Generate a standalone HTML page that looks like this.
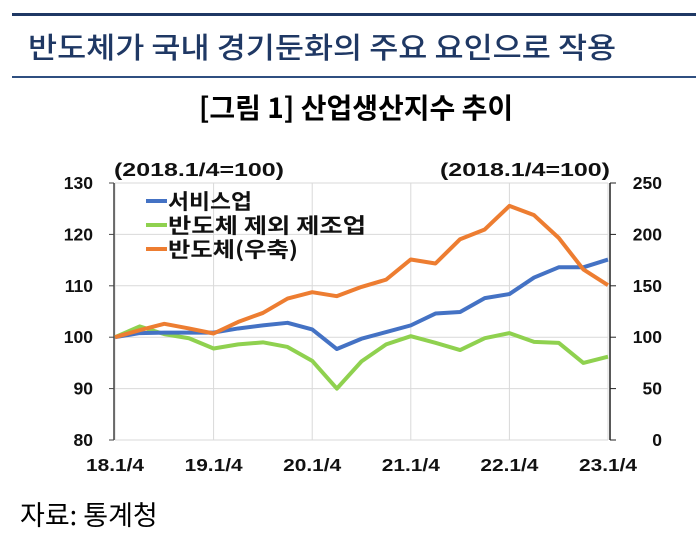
<!DOCTYPE html>
<html><head><meta charset="utf-8">
<style>
html,body{margin:0;padding:0;background:#fff;}
body{width:696px;height:535px;position:relative;overflow:hidden;font-family:"Liberation Sans","Noto Sans CJK KR",sans-serif;}
.abs{position:absolute;white-space:nowrap;}
</style></head>
<body>
<div class="abs" style="left:12px;top:13px;width:684px;height:3px;background:#1f3864;"></div>
<div class="abs" style="left:28px;top:26px;font-size:29px;font-weight:500;color:#1f3864;font-family:'Noto Sans CJK KR',sans-serif;line-height:40px;transform-origin:left center;transform:scaleX(1.09);">반도체가 국내 경기둔화의 주요 요인으로 작용</div>
<div class="abs" style="left:12px;top:76px;width:684px;height:1.5px;background:#2f4f80;"></div>
<div class="abs" style="left:156px;top:88px;width:400px;text-align:center;font-size:28px;font-weight:bold;color:#000;font-family:'Noto Sans CJK KR',sans-serif;line-height:38px;transform:scaleX(1.0);">[그림 1] 산업생산지수 추이</div>
<svg id="chart" class="abs" style="left:0;top:0" width="696" height="535"></svg>
<div class="abs" style="left:20px;top:496px;font-size:27px;color:#000;font-family:'Noto Sans CJK KR',sans-serif;line-height:36px;">자료: 통계청</div>
<script>
const categories = ["18.1/4","18.2/4","18.3/4","18.4/4","19.1/4","19.2/4","19.3/4","19.4/4","20.1/4","20.2/4","20.3/4","20.4/4","21.1/4","21.2/4","21.3/4","21.4/4","22.1/4","22.2/4","22.3/4","22.4/4","23.1/4"];
const services = [100,100.8,100.9,100.9,100.9,101.7,102.3,102.8,101.5,97.7,99.7,101.0,102.3,104.6,104.9,107.6,108.4,111.6,113.6,113.6,115.1];
const manufExSemi = [100,102.1,100.6,99.8,97.8,98.6,99.0,98.1,95.4,90.0,95.3,98.6,100.2,98.9,97.5,99.8,100.8,99.1,98.9,95.0,96.2];
const semiconductor = [100,106.8,113,108.5,103.6,114.9,123.6,137.6,143.8,139.9,148.9,156,175.6,171.7,195.3,204.8,227.7,218.7,196.6,165.9,150.6];
const leftTicks = [80,90,100,110,120,130];
const rightTicks = [0,50,100,150,200,250];
const xTickLabels = ["18.1/4","19.1/4","20.1/4","21.1/4","22.1/4","23.1/4"];

const NS="http://www.w3.org/2000/svg";
const svg=document.getElementById('chart');
const X0=115,X1=608,YT=183,YB=440;
const xS=i=>X0+(X1-X0)*i/(categories.length-1);
const yL=v=>YB-(v-80)/50*(YB-YT);
const yR=v=>YB-v/250*(YB-YT);
function mk(tag,attrs){const e=document.createElementNS(NS,tag);for(const k in attrs)e.setAttribute(k,attrs[k]);svg.appendChild(e);return e;}
const font='"Liberation Sans","Noto Sans CJK KR",sans-serif';
leftTicks.forEach(t=>{const g=mk('line',{x1:X0,x2:X1,y1:yL(t),y2:yL(t),stroke:'#d9d9d9','stroke-width':1});

});
xTickLabels.forEach(lab=>{const i=categories.indexOf(lab);const g=mk('line',{x1:xS(i),x2:xS(i),y1:YT,y2:YB,stroke:'#d9d9d9','stroke-width':1});

});
const la=mk('line',{x1:X0-1,x2:X0-1,y1:YT,y2:YB,stroke:'#444','stroke-width':1.5});


const ra=mk('line',{x1:X1+2,x2:X1+2,y1:YT,y2:YB,stroke:'#222','stroke-width':1.5});


leftTicks.forEach(t=>{mk('line',{x1:X0-6,x2:X0-1,y1:yL(t),y2:yL(t),stroke:'#444'});
const tx=mk('text',{x:X0-22,y:yL(t)+6,'text-anchor':'end','font-size':17.5,'font-weight':'bold','font-family':font,fill:'#111'});tx.textContent=t;

});
rightTicks.forEach(t=>{mk('line',{x1:X1+2,x2:X1+8,y1:yR(t),y2:yR(t),stroke:'#222'});
const tx=mk('text',{x:X1+54,y:yR(t)+6,'text-anchor':'end','font-size':17.5,'font-weight':'bold','font-family':font,fill:'#111'});tx.textContent=t;

});
xTickLabels.forEach(lab=>{const i=categories.indexOf(lab);const tx=mk('text',{x:xS(i),y:471,'text-anchor':'middle','font-size':17.5,'font-weight':'bold','font-family':font,fill:'#111',textLength:58,lengthAdjust:'spacingAndGlyphs'});tx.textContent=lab;

});
const lu=mk('text',{x:199,y:176,'text-anchor':'middle','font-size':18,'font-weight':'bold','font-family':font,fill:'#111',textLength:170,lengthAdjust:'spacingAndGlyphs'});lu.textContent='(2018.1/4=100)';


const ru=mk('text',{x:525,y:176,'text-anchor':'middle','font-size':18,'font-weight':'bold','font-family':font,fill:'#111',textLength:170,lengthAdjust:'spacingAndGlyphs'});ru.textContent='(2018.1/4=100)';


function series(vals,yf,color,name){const p=mk('polyline',{points:vals.map((v,i)=>xS(i)+','+yf(v)).join(' '),fill:'none',stroke:color,'stroke-width':4,'stroke-linejoin':'round'});

}
series(manufExSemi,yL,'#8fd14f','line-manufacturing-ex-semiconductor');
series(services,yL,'#4472c4','line-services');
series(semiconductor,yR,'#ed7d31','line-semiconductor');
const leg=[['서비스업','#4472c4',84],['반도체 제외 제조업','#8fd14f',198],['반도체(우축)','#ed7d31',130]];
leg.forEach((l,k)=>{const y=201+k*24;
const ln=mk('line',{x1:146,x2:167,y1:y,y2:y,stroke:l[1],'stroke-width':4});


const t=mk('text',{x:168,y:y+8,'font-size':21,'font-weight':'bold','font-family':'"Noto Sans CJK KR",sans-serif',fill:'#111',textLength:l[2],lengthAdjust:'spacingAndGlyphs'});t.textContent=l[0];

});
</script>
</body></html>
